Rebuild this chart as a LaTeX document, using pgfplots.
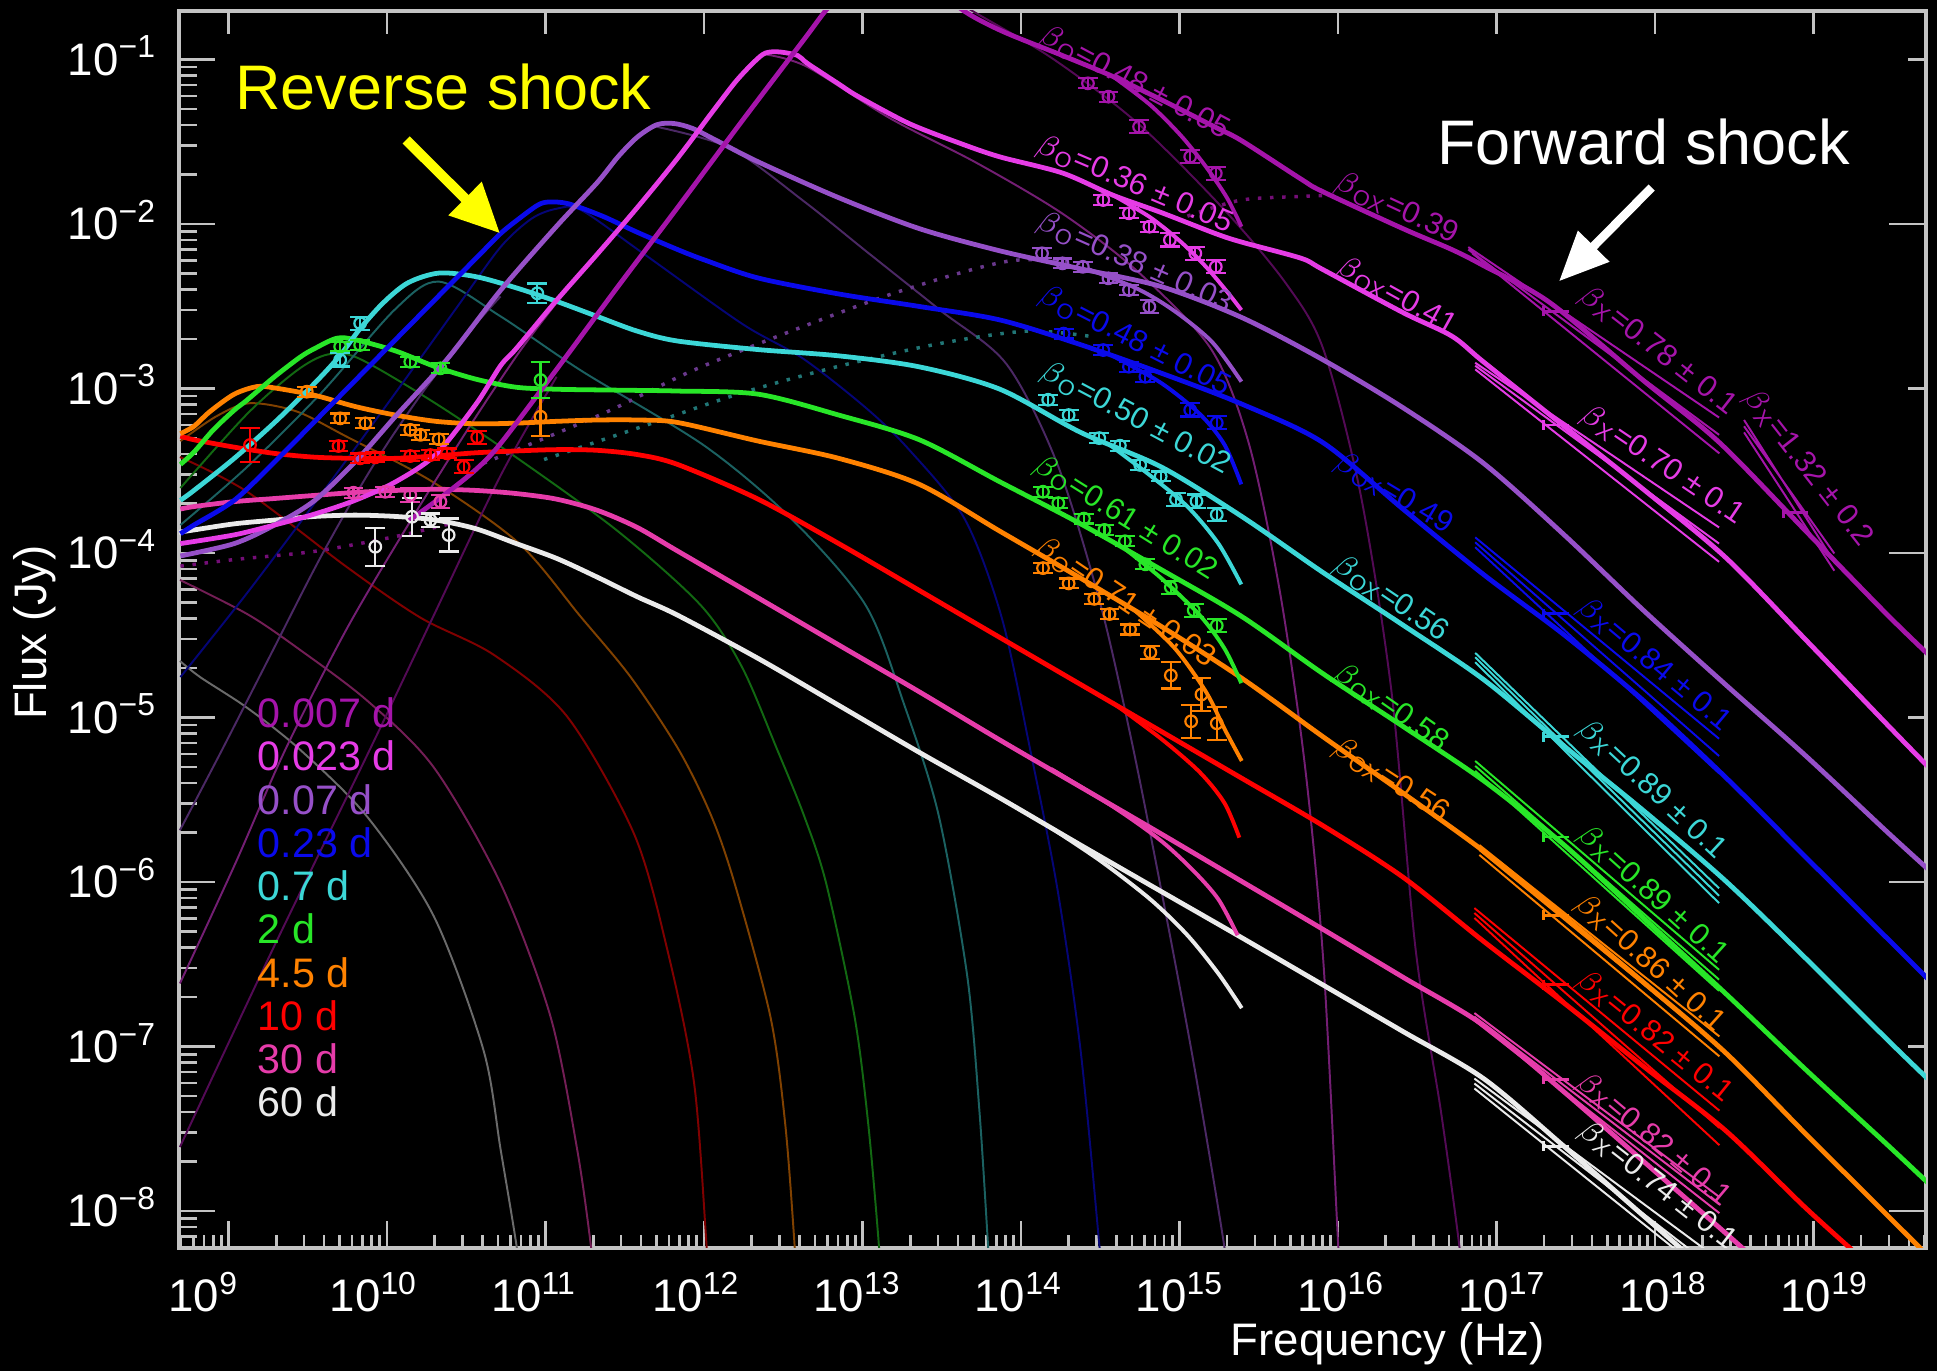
\documentclass[border=0pt]{standalone}
\usepackage{fontspec}
\setmainfont{Liberation Sans}
\usepackage{pgfplots}
\pgfplotsset{compat=1.18}
\usetikzlibrary{arrows.meta}
\definecolor{axgray}{RGB}{195,195,195}
\definecolor{cA}{RGB}{165,20,170}
\definecolor{cB}{RGB}{230,60,230}
\definecolor{cC}{RGB}{150,80,200}
\definecolor{cD}{RGB}{10,10,235}
\definecolor{cE}{RGB}{60,215,215}
\definecolor{cF}{RGB}{40,230,40}
\definecolor{cG}{RGB}{255,130,0}
\definecolor{cH}{RGB}{255,0,0}
\definecolor{cI}{RGB}{230,60,170}
\definecolor{cJ}{RGB}{235,235,235}
\definecolor{ylw}{RGB}{255,255,0}
\pgfplotsset{
  myframe/.style={at={(0,0)},anchor=south west,scale only axis,width=141.4mm,height=100.13mm},
  mc/.style={line width=1.1pt, smooth, tension=0.5},
  br/.style={line width=0.9pt, smooth, tension=0.5},
  rs/.style={line width=0.45pt, smooth, tension=0.5},
  bt/.style={line width=0.45pt, unbounded coords=jump},
  xb/.style={line width=0.6pt, unbounded coords=jump},
  pts/.style={only marks, mark=o, mark size=0.47mm, mark options={line width=0.5pt, solid},
    error bars/.cd, y dir=both, y explicit, error bar style={line width=0.5pt},
    error mark options={rotate=90, mark size=0.8mm, line width=0.5pt}},
}
\tikzset{lab/.style={font=\fontsize{7}{8}\selectfont, inner sep=0pt}}
\begin{document}
\begin{tikzpicture}
\path[use as bounding box, fill=black] (-14.5mm,-10mm) rectangle (142.3mm,101mm);
% tick marks of the bottom, top and right sides (frame units of 0.1 mm)
\begin{axis}[myframe, xmin=0, xmax=1414, ymin=0, ymax=1001.3, axis line style={draw=none},
  xtick=\empty, ytick=\empty, clip=false]
\addplot[ycomb, axgray, line width=0.6pt] coordinates {
 (40,21.6)(168.3,21.6)(296.6,21.6)(424.9,21.6)(553.2,21.6)(681.5,21.6)(809.8,21.6)(938.1,21.6)(1066.4,21.6)(1194.7,21.6)(1323,21.6)
 (1.4,10)(11.5,10)(20.1,10)(27.6,10)(34.1,10)
 (78.6,10)(101.2,10)(117.2,10)(129.7,10)(139.8,10)(148.4,10)(155.9,10)(162.4,10)
 (206.9,10)(229.5,10)(245.5,10)(258.0,10)(268.1,10)(276.7,10)(284.2,10)(290.7,10)
 (335.2,10)(357.8,10)(373.8,10)(386.3,10)(396.4,10)(405.0,10)(412.5,10)(419.0,10)
 (463.5,10)(486.1,10)(502.1,10)(514.6,10)(524.7,10)(533.3,10)(540.8,10)(547.3,10)
 (591.8,10)(614.4,10)(630.4,10)(642.9,10)(653.0,10)(661.6,10)(669.1,10)(675.6,10)
 (720.1,10)(742.7,10)(758.7,10)(771.2,10)(781.3,10)(789.9,10)(797.4,10)(803.9,10)
 (848.4,10)(871.0,10)(887.0,10)(899.5,10)(909.6,10)(918.2,10)(925.7,10)(932.2,10)
 (976.7,10)(999.3,10)(1015.3,10)(1027.8,10)(1037.9,10)(1046.5,10)(1054.0,10)(1060.5,10)
 (1105.0,10)(1127.6,10)(1143.6,10)(1156.1,10)(1166.2,10)(1174.8,10)(1182.3,10)(1188.8,10)
 (1233.3,10)(1255.9,10)(1271.9,10)(1284.4,10)(1294.5,10)(1303.1,10)(1310.6,10)(1317.1,10)
 (1361.6,10)(1384.2,10)(1400.2,10)(1412.7,10)};
\addplot[axgray, line width=0.6pt, unbounded coords=jump] coordinates {
 (40,1001.3)(40,982.3)(nan,nan)(168.3,1001.3)(168.3,982.3)(nan,nan)(296.6,1001.3)(296.6,982.3)(nan,nan)
 (424.9,1001.3)(424.9,982.3)(nan,nan)(553.2,1001.3)(553.2,982.3)(nan,nan)(681.5,1001.3)(681.5,982.3)(nan,nan)
 (809.8,1001.3)(809.8,982.3)(nan,nan)(938.1,1001.3)(938.1,982.3)(nan,nan)(1066.4,1001.3)(1066.4,982.3)(nan,nan)
 (1194.7,1001.3)(1194.7,982.3)(nan,nan)(1323,1001.3)(1323,982.3)(nan,nan)
 (1414,162.8)(1399.5,162.8)(nan,nan)(1414,429.2)(1399.5,429.2)(nan,nan)(1414,695.6)(1399.5,695.6)(nan,nan)(1414,962.0)(1399.5,962.0)(nan,nan)
 (1414,29.6)(1384.3,29.6)(nan,nan)(1414,296.0)(1384.3,296.0)(nan,nan)(1414,562.4)(1384.3,562.4)(nan,nan)(1414,828.8)(1384.3,828.8)};
\end{axis}
% main axis
\begin{axis}[myframe, xmin=8.908, xmax=19.744, ymin=-8.222, ymax=-0.705,
  axis line style={draw=axgray, line width=0.9pt},
  xtick={9,10,11,12,13,14,15,16,17,18,19},
  xticklabels={10\rlap{\textsuperscript{9}},10\rlap{\textsuperscript{10}},10\rlap{\textsuperscript{11}},10\rlap{\textsuperscript{12}},10\rlap{\textsuperscript{13}},10\rlap{\textsuperscript{14}},10\rlap{\textsuperscript{15}},10\rlap{\textsuperscript{16}},10\rlap{\textsuperscript{17}},10\rlap{\textsuperscript{18}},10\rlap{\textsuperscript{19}}},
  major x tick style={draw=none},
  xtick pos=left,
  ytick={-8,-7,-6,-5,-4,-3,-2,-1},
  yticklabels={10\textsuperscript{−8},10\textsuperscript{−7},10\textsuperscript{−6},10\textsuperscript{−5},10\textsuperscript{−4},10\textsuperscript{−3},10\textsuperscript{−2},10\textsuperscript{−1}},
  minor ytick={-8.155,-8.097,-8.046,
  -7.699,-7.523,-7.398,-7.301,-7.222,-7.155,-7.097,-7.046,
  -6.699,-6.523,-6.398,-6.301,-6.222,-6.155,-6.097,-6.046,
  -5.699,-5.523,-5.398,-5.301,-5.222,-5.155,-5.097,-5.046,
  -4.699,-4.523,-4.398,-4.301,-4.222,-4.155,-4.097,-4.046,
  -3.699,-3.523,-3.398,-3.301,-3.222,-3.155,-3.097,-3.046,
  -2.699,-2.523,-2.398,-2.301,-2.222,-2.155,-2.097,-2.046,
  -1.699,-1.523,-1.398,-1.301,-1.222,-1.155,-1.097,-1.046},
  ytick pos=left,
  major tick length=2.9mm, minor tick length=1.45mm,
  tick style={color=axgray, line width=0.6pt},
  xticklabel style={text=white, font=\fontsize{10.5}{12}\selectfont, anchor=base, inner sep=0pt, yshift=-5.18mm},
  yticklabel style={text=white, font=\fontsize{10.5}{12}\selectfont, anchor=base east, inner sep=0pt, xshift=-1.7mm, yshift=-1.27mm},
]
% ---------- reverse-shock components (thin, dim) ----------
\addplot[rs, cJ!45!black] coordinates {(8.913,-4.656)(9.038,-4.754)(9.330,-4.941)(9.660,-5.197)(10.074,-5.602)(10.489,-6.210)(10.796,-7.021)(10.903,-7.629)(11.003,-8.222)(11.049,-8.598)};
\addplot[rs, cI!50!black] coordinates {(8.913,-4.164)(9.330,-4.371)(9.637,-4.574)(10.073,-4.896)(10.487,-5.302)(10.902,-6.008)(11.212,-6.818)(11.378,-7.629)(11.464,-8.222)(11.502,-8.598)};
\addplot[rs, cH!50!black] coordinates {(8.913,-3.417)(9.330,-3.628)(9.949,-4.086)(10.405,-4.393)(10.860,-4.619)(11.315,-4.994)(11.730,-5.707)(11.937,-6.413)(12.103,-7.224)(12.181,-8.222)(12.208,-8.598)};
\addplot[rs, cG!50!black] coordinates {(8.916,-3.320)(9.138,-3.170)(9.345,-3.090)(9.637,-3.140)(9.949,-3.294)(10.481,-3.568)(11.018,-3.943)(11.398,-4.386)(11.709,-4.754)(12.008,-5.197)(12.208,-5.595)(12.354,-6.008)(12.576,-6.818)(12.668,-7.471)(12.727,-8.222)(12.745,-8.598)};
\addplot[rs, cF!45!black] coordinates {(8.916,-3.605)(9.330,-3.155)(9.637,-2.892)(9.829,-2.794)(10.021,-2.817)(10.481,-3.080)(11.018,-3.432)(11.630,-3.868)(12.144,-4.318)(12.400,-4.694)(12.619,-5.197)(12.784,-5.595)(12.922,-6.008)(13.098,-6.818)(13.183,-7.471)(13.250,-8.222)(13.267,-8.598)};
\addplot[rs, cE!45!black] coordinates {(8.916,-3.830)(9.330,-3.477)(9.790,-3.027)(10.25,-2.517)(10.520,-2.351)(10.902,-2.562)(11.402,-2.892)(12.169,-3.350)(12.707,-3.793)(13.167,-4.318)(13.405,-4.919)(13.620,-5.595)(13.797,-6.571)(13.873,-7.396)(13.927,-8.222)(13.950,-8.598)};
\addplot[rs, cD!50!black] coordinates {(8.916,-4.754)(9.330,-4.243)(9.790,-3.643)(10.25,-3.027)(10.635,-2.502)(10.902,-2.141)(11.095,-1.968)(11.25,-1.908)(11.402,-1.916)(11.786,-2.179)(12.400,-2.607)(12.776,-2.817)(13.167,-3.117)(13.436,-3.372)(13.781,-3.793)(14.011,-4.393)(14.188,-5.197)(14.357,-6.045)(14.5,-7.021)(14.618,-8.222)(14.649,-8.598)};
\addplot[rs, cC!50!black] coordinates {(11.870,-1.41)(12.328,-1.54)(12.784,-1.863)(13.167,-2.164)(13.628,-2.524)(14.042,-2.854)(14.357,-3.462)(14.625,-4.318)(14.817,-5.144)(15.0,-6.045)(15.201,-7.096)(15.393,-8.222)(15.432,-8.598)};
\addplot[rs, cB!50!black] coordinates {(12.545,-0.97)(12.803,-1.045)(13.321,-1.36)(13.858,-1.631)(14.388,-1.938)(14.856,-2.291)(15.312,-2.764)(15.546,-3.342)(15.738,-4.243)(15.892,-5.294)(16.007,-6.495)(16.099,-8.222)(16.122,-8.598)};
\addplot[rs, cA!50!black] coordinates {(13.321,-0.39)(13.750,-0.66)(14.318,-0.99)(14.856,-1.390)(15.393,-1.916)(15.777,-2.366)(16.007,-2.764)(16.237,-3.643)(16.429,-4.844)(16.579,-6.413)(16.736,-7.396)(16.851,-8.222)(16.882,-8.598)};
\addplot[rs, cC!50!black] coordinates {(8.913,-5.685)(9.174,-5.197)(9.491,-4.589)(9.790,-4.018)(10.097,-3.492)(10.405,-3.042)(10.711,-2.652)(10.902,-2.441)};
\addplot[rs, cB!50!black] coordinates {(8.913,-6.616)(9.253,-5.895)(9.566,-5.197)(9.944,-4.468)(10.328,-3.830)(10.711,-3.230)(11.018,-2.779)(11.25,-2.479)};
\addplot[rs, cA!50!black] coordinates {(8.913,-7.610)(9.483,-6.420)(10.090,-5.197)(10.481,-4.393)(10.902,-3.530)(11.25,-2.929)};
% ---------- forward-shock components (dotted) ----------
\addplot[line width=0.8pt, dotted, cC!70!black, smooth] coordinates {(10.796,-3.455)(11.533,-3.155)(12.093,-2.892)(12.765,-2.629)(13.397,-2.404)(14.070,-2.224)(14.549,-2.246)};
\addplot[line width=0.8pt, dotted, cE!55!black, smooth] coordinates {(11.172,-3.432)(11.786,-3.230)(12.400,-3.027)(13.014,-2.862)(13.628,-2.727)(14.165,-2.652)(14.549,-2.682)};
\addplot[line width=0.8pt, dotted, cA!70!black, smooth] coordinates {(15.163,-1.953)(15.493,-1.856)(15.869,-1.833)(16.084,-1.826)};
\addplot[line width=0.8pt, dotted, cA!70!black, smooth] coordinates {(8.916,-4.080)(9.25,-4.040)(9.75,-3.990)(10.25,-3.900)(10.6,-3.820)};
% ---------- total model curves ----------
\addplot[mc, cJ] coordinates {(8.900,-3.875)(9.0,-3.860)(9.25,-3.823)(9.5,-3.800)(9.75,-3.778)(10.0,-3.770)(10.25,-3.778)(10.5,-3.800)(10.75,-3.853)(11.0,-3.943)(11.25,-4.033)(11.5,-4.146)(11.75,-4.266)(12.0,-4.378)(12.5,-4.641)(13.0,-4.926)(13.5,-5.212)(14.0,-5.489)(14.5,-5.775)(15.0,-6.057)(15.5,-6.338)(16.0,-6.623)(16.5,-6.908)(17.0,-7.194)(17.5,-7.607)(18.0,-8.035)(18.5,-8.462)};
\addplot[mc, cI] coordinates {(8.916,-3.733)(9.0,-3.718)(9.25,-3.688)(9.5,-3.669)(9.75,-3.650)(10.0,-3.632)(10.25,-3.620)(10.5,-3.613)(10.75,-3.620)(11.0,-3.639)(11.25,-3.673)(11.5,-3.740)(11.75,-3.845)(12.0,-3.988)(12.5,-4.273)(13.0,-4.559)(13.5,-4.844)(14.0,-5.137)(14.5,-5.422)(15.0,-5.707)(15.5,-5.996)(16.0,-6.285)(16.5,-6.578)(17.0,-6.871)(17.5,-7.276)(18.0,-7.704)(18.5,-8.132)(18.75,-8.350)};
\addplot[mc, cH] coordinates {(8.916,-3.290)(9.0,-3.312)(9.25,-3.357)(9.5,-3.395)(9.75,-3.418)(10.0,-3.425)(10.25,-3.425)(10.5,-3.410)(10.75,-3.391)(11.0,-3.380)(11.25,-3.372)(11.5,-3.376)(11.75,-3.402)(12.0,-3.462)(12.5,-3.673)(13.0,-3.943)(13.5,-4.228)(14.0,-4.514)(14.5,-4.799)(15.0,-5.084)(15.5,-5.369)(16.0,-5.655)(16.5,-5.970)(17.0,-6.360)(17.5,-6.736)(18.0,-7.126)(18.5,-7.509)(19.0,-7.982)(19.383,-8.320)};
\addplot[mc, cG] coordinates {(8.916,-3.275)(9.0,-3.230)(9.1,-3.140)(9.25,-3.035)(9.39,-2.989)(9.5,-2.997)(9.75,-3.042)(10.0,-3.110)(10.25,-3.162)(10.5,-3.200)(10.75,-3.215)(11.0,-3.211)(11.25,-3.200)(11.5,-3.192)(11.75,-3.192)(12.0,-3.207)(12.5,-3.320)(13.0,-3.425)(13.5,-3.583)(14.0,-3.868)(14.5,-4.153)(15.0,-4.446)(15.5,-4.761)(16.0,-5.114)(16.5,-5.459)(17.0,-5.812)(17.5,-6.210)(18.0,-6.616)(18.5,-7.036)(19.0,-7.532)(19.5,-8.020)(19.791,-8.305)};
\addplot[mc, cF] coordinates {(8.916,-3.462)(9.0,-3.387)(9.12,-3.252)(9.25,-3.132)(9.328,-3.072)(9.5,-2.929)(9.66,-2.809)(9.75,-2.757)(9.886,-2.695)(10.0,-2.704)(10.25,-2.772)(10.5,-2.869)(10.75,-2.944)(11.0,-2.993)(11.25,-3.005)(11.5,-3.009)(11.75,-3.012)(12.0,-3.016)(12.5,-3.035)(13.0,-3.162)(13.5,-3.312)(14.0,-3.568)(14.5,-3.823)(15.0,-4.101)(15.5,-4.386)(16.0,-4.731)(16.5,-5.054)(17.0,-5.384)(17.5,-5.775)(18.0,-6.225)(18.5,-6.676)(19.0,-7.141)(19.5,-7.592)(19.761,-7.832)};
\addplot[mc, cE] coordinates {(8.916,-3.680)(9.0,-3.620)(9.25,-3.425)(9.5,-3.207)(9.75,-2.967)(9.906,-2.800)(10.028,-2.640)(10.174,-2.480)(10.328,-2.358)(10.52,-2.299)(10.75,-2.321)(11.0,-2.389)(11.25,-2.471)(11.5,-2.562)(11.75,-2.652)(12.0,-2.712)(12.5,-2.764)(13.0,-2.802)(13.5,-2.869)(14.0,-3.005)(14.5,-3.267)(15.0,-3.477)(15.5,-3.778)(16.0,-4.116)(16.5,-4.438)(17.0,-4.769)(17.5,-5.174)(18.0,-5.572)(18.5,-5.992)(19.0,-6.465)(19.5,-6.953)(19.761,-7.201)};
\addplot[mc, cD] coordinates {(8.916,-3.883)(9.0,-3.830)(9.25,-3.680)(9.5,-3.447)(9.75,-3.200)(10.0,-2.952)(10.25,-2.704)(10.5,-2.456)(10.75,-2.209)(10.902,-2.059)(11.017,-1.968)(11.133,-1.886)(11.202,-1.867)(11.324,-1.878)(11.534,-1.953)(11.75,-2.051)(12.0,-2.156)(12.169,-2.220)(12.5,-2.329)(13.0,-2.426)(13.5,-2.502)(14.0,-2.584)(14.5,-2.734)(15.0,-2.907)(15.5,-3.095)(16.0,-3.327)(16.5,-3.733)(17.0,-4.131)(17.5,-4.498)(18.0,-4.904)(18.5,-5.362)(19.0,-5.850)(19.5,-6.338)(19.761,-6.593)};
\addplot[mc, cC] coordinates {(8.916,-4.018)(9.25,-3.943)(9.5,-3.830)(9.75,-3.680)(10.013,-3.432)(10.25,-3.170)(10.569,-2.824)(10.902,-2.404)(11.25,-2.014)(11.5,-1.751)(11.63,-1.593)(11.75,-1.473)(11.87,-1.398)(11.977,-1.390)(12.093,-1.420)(12.231,-1.488)(12.5,-1.623)(13.0,-1.841)(13.5,-2.029)(14.0,-2.164)(14.5,-2.273)(15.0,-2.381)(15.5,-2.569)(16.0,-2.824)(16.5,-3.117)(17.0,-3.455)(17.5,-3.890)(18.0,-4.356)(18.5,-4.799)(19.0,-5.234)(19.5,-5.692)(19.761,-5.925)};
\addplot[mc, cB] coordinates {(8.916,-3.943)(9.25,-3.890)(9.5,-3.830)(9.75,-3.763)(10.0,-3.680)(10.25,-3.568)(10.5,-3.402)(10.75,-3.095)(10.902,-2.862)(11.0,-2.757)(11.25,-2.464)(11.5,-2.186)(11.75,-1.901)(12.0,-1.601)(12.208,-1.330)(12.361,-1.135)(12.476,-1.015)(12.545,-0.962)(12.63,-0.955)(12.745,-0.977)(12.803,-1.023)(13.0,-1.150)(13.119,-1.225)(13.436,-1.390)(13.754,-1.511)(14.0,-1.593)(14.388,-1.691)(14.702,-1.826)(15.0,-1.931)(15.337,-2.059)(15.5,-2.111)(15.868,-2.209)(16.0,-2.276)(16.5,-2.539)(16.803,-2.682)(17.0,-2.839)(17.5,-3.230)(18.0,-3.620)(18.5,-4.026)(19.0,-4.529)(19.5,-5.039)(19.761,-5.302)};
\addplot[mc, cA] coordinates {(10.328,-3.808)(10.558,-3.643)(10.75,-3.492)(10.902,-3.335)(11.25,-2.884)(11.63,-2.381)(12.0,-1.901)(12.4,-1.375)(12.784,-0.880)(12.929,-0.692)(13.09,-0.527)(13.321,-0.377)(13.551,-0.489)(13.754,-0.690)(14.007,-0.826)(14.388,-0.977)(14.702,-1.105)(15.02,-1.255)(15.337,-1.413)(15.5,-1.495)(15.868,-1.728)(16.0,-1.803)(16.5,-2.029)(16.803,-2.156)(17.0,-2.254)(17.412,-2.479)(18.0,-2.959)(18.461,-3.327)(19.0,-3.868)(19.5,-4.371)(19.761,-4.619)};
% ---------- optical (extinguished) branches ----------
\addplot[br, cJ] coordinates {(14.318,-5.671)(14.625,-5.872)(14.933,-6.105)(15.163,-6.323)(15.355,-6.556)(15.500,-6.766)};
\addplot[br, cI] coordinates {(14.318,-5.313)(14.702,-5.542)(14.994,-5.745)(15.201,-5.932)(15.355,-6.105)(15.474,-6.323)};
\addplot[br, cH] coordinates {(14.702,-4.912)(15.0,-5.129)(15.239,-5.332)(15.393,-5.520)(15.485,-5.730)};
\addplot[br, cG] coordinates {(14.840,-4.352)(15.086,-4.581)(15.278,-4.844)(15.393,-5.069)(15.500,-5.264)};
\addplot[br, cF] coordinates {(14.779,-3.978)(15.0,-4.153)(15.239,-4.378)(15.393,-4.581)(15.497,-4.791)};
\addplot[br, cE] coordinates {(14.679,-3.342)(14.933,-3.530)(15.163,-3.718)(15.355,-3.943)(15.497,-4.191)};
\addplot[br, cD] coordinates {(14.702,-2.804)(15.0,-2.967)(15.239,-3.155)(15.393,-3.342)(15.497,-3.583)};
\addplot[br, cC] coordinates {(14.549,-2.276)(14.856,-2.396)(15.086,-2.532)(15.317,-2.719)(15.498,-2.959)};
\addplot[br, cB] coordinates {(14.702,-1.826)(14.933,-1.961)(15.124,-2.111)(15.278,-2.261)(15.408,-2.411)(15.498,-2.524)};
\addplot[br, cA] coordinates {(14.702,-1.105)(14.933,-1.278)(15.124,-1.465)(15.278,-1.653)(15.408,-1.841)(15.498,-2.017)};
% ---------- X-ray bow ties ----------
\addplot[bt, cA] coordinates {(16.905,-2.141)(18.461,-3.177)(nan,nan)(16.905,-2.156)(18.461,-3.282)(nan,nan)(16.930,-2.179)(18.463,-3.395)};
\addplot[bt, cA] coordinates {(18.616,-3.192)(19.176,-4.056)(nan,nan)(18.616,-3.230)(19.176,-4.003)(nan,nan)(18.616,-3.267)(19.176,-4.108)};
\addplot[bt, cB] coordinates {(16.948,-2.844)(18.461,-3.845)(nan,nan)(16.948,-2.862)(18.461,-3.943)(nan,nan)(16.948,-2.884)(18.461,-4.054)};
\addplot[bt, cD] coordinates {(16.948,-3.905)(18.461,-5.129)(nan,nan)(16.948,-3.935)(18.461,-5.234)(nan,nan)(16.948,-3.965)(18.461,-5.339)};
\addplot[bt, cE] coordinates {(16.948,-4.607)(18.461,-6.038)(nan,nan)(16.948,-4.634)(18.461,-6.083)(nan,nan)(16.948,-4.664)(18.461,-6.128)};
\addplot[bt, cF] coordinates {(16.948,-5.264)(18.461,-6.533)(nan,nan)(16.948,-5.294)(18.461,-6.593)(nan,nan)(16.948,-5.324)(18.461,-6.661)};
\addplot[bt, cG] coordinates {(16.974,-5.775)(18.463,-6.938)(nan,nan)(16.974,-5.805)(18.463,-6.998)(nan,nan)(16.974,-5.835)(18.463,-7.059)};
\addplot[bt, cH] coordinates {(16.943,-6.158)(18.463,-7.389)(nan,nan)(16.943,-6.188)(18.463,-7.494)(nan,nan)(16.943,-6.218)(18.463,-7.599)};
\addplot[bt, cI] coordinates {(16.943,-6.796)(18.463,-7.914)(nan,nan)(16.943,-6.818)(18.463,-7.959)(nan,nan)(16.943,-6.841)(18.463,-8.012)};
\addplot[bt, cJ] coordinates {(16.943,-7.194)(18.463,-8.297)(nan,nan)(16.943,-7.224)(18.463,-8.372)(nan,nan)(16.943,-7.254)(18.463,-8.447)};
% X-ray flux points: short horizontal bars with an end cap at the centre of each bow tie
\addplot[xb, cA] coordinates {(17.373,-2.531)(17.527,-2.531)(nan,nan)(17.373,-2.501)(17.373,-2.561)(nan,nan)(18.859,-3.755)(19.013,-3.755)(nan,nan)(18.859,-3.725)(18.859,-3.785)};
\addplot[xb, cB] coordinates {(17.373,-3.222)(17.527,-3.222)(nan,nan)(17.373,-3.192)(17.373,-3.252)};
\addplot[xb, cD] coordinates {(17.373,-4.368)(17.527,-4.368)(nan,nan)(17.373,-4.338)(17.373,-4.398)};
\addplot[xb, cE] coordinates {(17.373,-5.117)(17.527,-5.117)(nan,nan)(17.373,-5.087)(17.373,-5.147)};
\addplot[xb, cF] coordinates {(17.373,-5.727)(17.527,-5.727)(nan,nan)(17.373,-5.697)(17.373,-5.757)};
\addplot[xb, cG] coordinates {(17.373,-6.202)(17.527,-6.202)(nan,nan)(17.373,-6.172)(17.373,-6.232)};
\addplot[xb, cH] coordinates {(17.373,-6.623)(17.527,-6.623)(nan,nan)(17.373,-6.593)(17.373,-6.653)};
\addplot[xb, cI] coordinates {(17.373,-7.198)(17.527,-7.198)(nan,nan)(17.373,-7.168)(17.373,-7.228)};
\addplot[xb, cJ] coordinates {(17.373,-7.606)(17.527,-7.606)(nan,nan)(17.373,-7.576)(17.373,-7.636)};
% ---------- data points ----------
\addplot[cH, pts] coordinates {(9.348,-3.344) +- (0,0.105) (9.897,-3.350) +- (0,0.03) (10.031,-3.425) +- (0,0.03) (10.125,-3.419) +- (0,0.03) (10.342,-3.411) +- (0,0.03) (10.467,-3.405) +- (0,0.03) (10.570,-3.395) +- (0,0.03) (10.673,-3.476) +- (0,0.04) (10.757,-3.297) +- (0,0.04)};
\addplot[cG, pts] coordinates {(9.700,-3.020) +- (0,0.03) (9.907,-3.182) +- (0,0.03) (10.063,-3.212) +- (0,0.03) (10.342,-3.252) +- (0,0.03) (10.405,-3.282) +- (0,0.03) (10.518,-3.309) +- (0,0.03) (11.150,-3.172) +- (0,0.116)};
\addplot[cF, pts] coordinates {(9.907,-2.746) +- (0,0.03) (10.031,-2.736) +- (0,0.03) (10.342,-2.838) +- (0,0.03) (10.529,-2.878) +- (0,0.03) (11.150,-2.949) +- (0,0.11)};
\addplot[cE, pts] coordinates {(10.031,-2.604) +- (0,0.04) (9.907,-2.827) +- (0,0.04) (11.130,-2.422) +- (0,0.06)};
\addplot[cI, pts] coordinates {(9.990,-3.634) +- (0,0.03) (10.187,-3.628) +- (0,0.03) (10.342,-3.648) +- (0,0.04) (10.529,-3.688) +- (0,0.04)};
\addplot[cJ, pts] coordinates {(10.125,-3.962) +- (0,0.116) (10.353,-3.780) +- (0,0.116) (10.467,-3.800) +- (0,0.04) (10.580,-3.891) +- (0,0.10)};
\addplot[cE, pts] coordinates {(14.299,-3.069) +- (0,0.03) (14.426,-3.162) +- (0,0.03) (14.616,-3.302) +- (0,0.03) (14.744,-3.348) +- (0,0.03) (14.870,-3.465) +- (0,0.03) (14.997,-3.535) +- (0,0.03) (15.092,-3.674) +- (0,0.04) (15.219,-3.685) +- (0,0.04) (15.345,-3.767) +- (0,0.04)};
\addplot[cF, pts] coordinates {(14.267,-3.628) +- (0,0.03) (14.362,-3.697) +- (0,0.03) (14.521,-3.791) +- (0,0.03) (14.648,-3.860) +- (0,0.03) (14.775,-3.929) +- (0,0.03) (14.902,-4.069) +- (0,0.03) (15.060,-4.209) +- (0,0.04) (15.202,-4.348) +- (0,0.04) (15.345,-4.441) +- (0,0.04)};
\addplot[cG, pts] coordinates {(14.267,-4.092) +- (0,0.03) (14.426,-4.185) +- (0,0.03) (14.585,-4.279) +- (0,0.03) (14.680,-4.371) +- (0,0.03) (14.807,-4.465) +- (0,0.03) (14.933,-4.604) +- (0,0.04) (15.060,-4.744) +- (0,0.08) (15.250,-4.860) +- (0,0.10) (15.186,-5.023) +- (0,0.10) (15.345,-5.035) +- (0,0.10)};
\addplot[cD, pts] coordinates {(14.395,-2.667) +- (0,0.03) (14.641,-2.767) +- (0,0.03) (14.800,-2.868) +- (0,0.03) (14.902,-2.929) +- (0,0.03) (15.180,-3.131) +- (0,0.04) (15.345,-3.209) +- (0,0.04)};
\addplot[cC, pts] coordinates {(14.261,-2.179) +- (0,0.03) (14.388,-2.240) +- (0,0.03) (14.514,-2.261) +- (0,0.03) (14.673,-2.331) +- (0,0.03) (14.800,-2.402) +- (0,0.03) (14.927,-2.504) +- (0,0.04)};
\addplot[cB, pts] coordinates {(14.641,-1.855) +- (0,0.03) (14.800,-1.936) +- (0,0.03) (14.927,-2.017) +- (0,0.03) (15.054,-2.098) +- (0,0.04) (15.212,-2.179) +- (0,0.04) (15.339,-2.261) +- (0,0.04)};
\addplot[cA, pts] coordinates {(14.546,-1.146) +- (0,0.03) (14.673,-1.227) +- (0,0.03) (14.863,-1.410) +- (0,0.04) (15.180,-1.592) +- (0,0.04) (15.339,-1.693) +- (0,0.04)};
% ---------- slope labels ----------
\node[lab, cA, rotate=-28] at (axis cs:14.833,-1.146) {$\beta$\textsubscript{O}=0.48 ± 0.05};
\node[lab, cB, rotate=-23] at (axis cs:14.833,-1.764) {$\beta$\textsubscript{O}=0.36 ± 0.05};
\node[lab, cC, rotate=-24] at (axis cs:14.833,-2.240) {$\beta$\textsubscript{O}=0.38 ± 0.03};
\node[lab, cD, rotate=-27] at (axis cs:14.833,-2.716) {$\beta$\textsubscript{O}=0.48 ± 0.05};
\node[lab, cE, rotate=-28] at (axis cs:14.838,-3.185) {$\beta$\textsubscript{O}=0.50 ± 0.02};
\node[lab, cF, rotate=-32] at (axis cs:14.775,-3.791) {$\beta$\textsubscript{O}=0.61 ± 0.02};
\node[lab, cG, rotate=-34] at (axis cs:14.775,-4.302) {$\beta$\textsubscript{O}=0.71 ± 0.03};
\node[lab, cA, rotate=-25] at (axis cs:16.459,-1.908) {$\beta$\textsubscript{OX}=0.39};
\node[lab, cB, rotate=-29] at (axis cs:16.459,-2.442) {$\beta$\textsubscript{OX}=0.41};
\node[lab, cD, rotate=-31] at (axis cs:16.439,-3.639) {$\beta$\textsubscript{OX}=0.49};
\node[lab, cE, rotate=-34] at (axis cs:16.423,-4.279) {$\beta$\textsubscript{OX}=0.56};
\node[lab, cF, rotate=-35] at (axis cs:16.423,-4.941) {$\beta$\textsubscript{OX}=0.58};
\node[lab, cG, rotate=-33] at (axis cs:16.423,-5.383) {$\beta$\textsubscript{OX}=0.56};
\node[lab, cA, rotate=-38] at (axis cs:18.077,-2.771) {$\beta$\textsubscript{X}=0.78 ± 0.1};
\node[lab, cB, rotate=-34] at (axis cs:18.108,-3.470) {$\beta$\textsubscript{X}=0.70 ± 0.1};
\node[lab, cA, rotate=-52] at (axis cs:19.009,-3.485) {$\beta$\textsubscript{X}=1.32 ± 0.2};
\node[lab, cD, rotate=-40] at (axis cs:18.056,-4.680) {$\beta$\textsubscript{X}=0.84 ± 0.1};
\node[lab, cE, rotate=-43] at (axis cs:18.041,-5.438) {$\beta$\textsubscript{X}=0.89 ± 0.1};
\node[lab, cF, rotate=-42] at (axis cs:18.046,-6.079) {$\beta$\textsubscript{X}=0.89 ± 0.1};
\node[lab, cG, rotate=-42] at (axis cs:18.030,-6.494) {$\beta$\textsubscript{X}=0.86 ± 0.1};
\node[lab, cH, rotate=-39] at (axis cs:18.058,-6.940) {$\beta$\textsubscript{X}=0.82 ± 0.1};
\node[lab, cI, rotate=-40] at (axis cs:18.052,-7.568) {$\beta$\textsubscript{X}=0.82 ± 0.1};
\node[lab, cJ, rotate=-38] at (axis cs:18.076,-7.847) {$\beta$\textsubscript{X}=0.74 ± 0.1};
\end{axis}
% ---------- axis titles ----------
\node[text=white, font=\fontsize{10.5}{12}\selectfont, anchor=base] at (97.85mm,-8.7mm) {Frequency (Hz)};
\node[text=white, font=\fontsize{10.5}{12}\selectfont, rotate=90] at (-11.7mm,49.8mm) {Flux (Jy)};
% ---------- legend ----------
\begin{scope}[every node/.style={anchor=base west, inner sep=0pt, font=\fontsize{9.5}{11}\selectfont}]
\node[text=cA] at (6.3mm,42.1mm) {0.007 d};
\node[text=cB] at (6.3mm,38.6mm) {0.023 d};
\node[text=cC] at (6.3mm,35.1mm) {0.07 d};
\node[text=cD] at (6.3mm,31.6mm) {0.23 d};
\node[text=cE] at (6.3mm,28.1mm) {0.7 d};
\node[text=cF] at (6.3mm,24.6mm) {2 d};
\node[text=cG] at (6.3mm,21.1mm) {4.5 d};
\node[text=cH] at (6.3mm,17.6mm) {10 d};
\node[text=cI] at (6.3mm,14.1mm) {30 d};
\node[text=cJ] at (6.3mm,10.6mm) {60 d};
\end{scope}
% ---------- annotations ----------
\node[text=ylw, font=\fontsize{14.5}{16}\selectfont, anchor=base west, inner sep=0pt] at (4.47mm,92.1mm) {Reverse shock};
\draw[ylw, line width=2.3pt, -{Triangle[length=4mm,width=3.6mm]}] (18.38mm,89.67mm) -- (25.98mm,82.11mm);
\node[text=white, font=\fontsize{14.5}{16}\selectfont, anchor=base west, inner sep=0pt] at (101.77mm,87.68mm) {Forward shock};
\draw[white, line width=2pt, -{Triangle[length=4mm,width=3.4mm]}] (119.2mm,85.82mm) -- (111.7mm,78.23mm);
\end{tikzpicture}
\end{document}
